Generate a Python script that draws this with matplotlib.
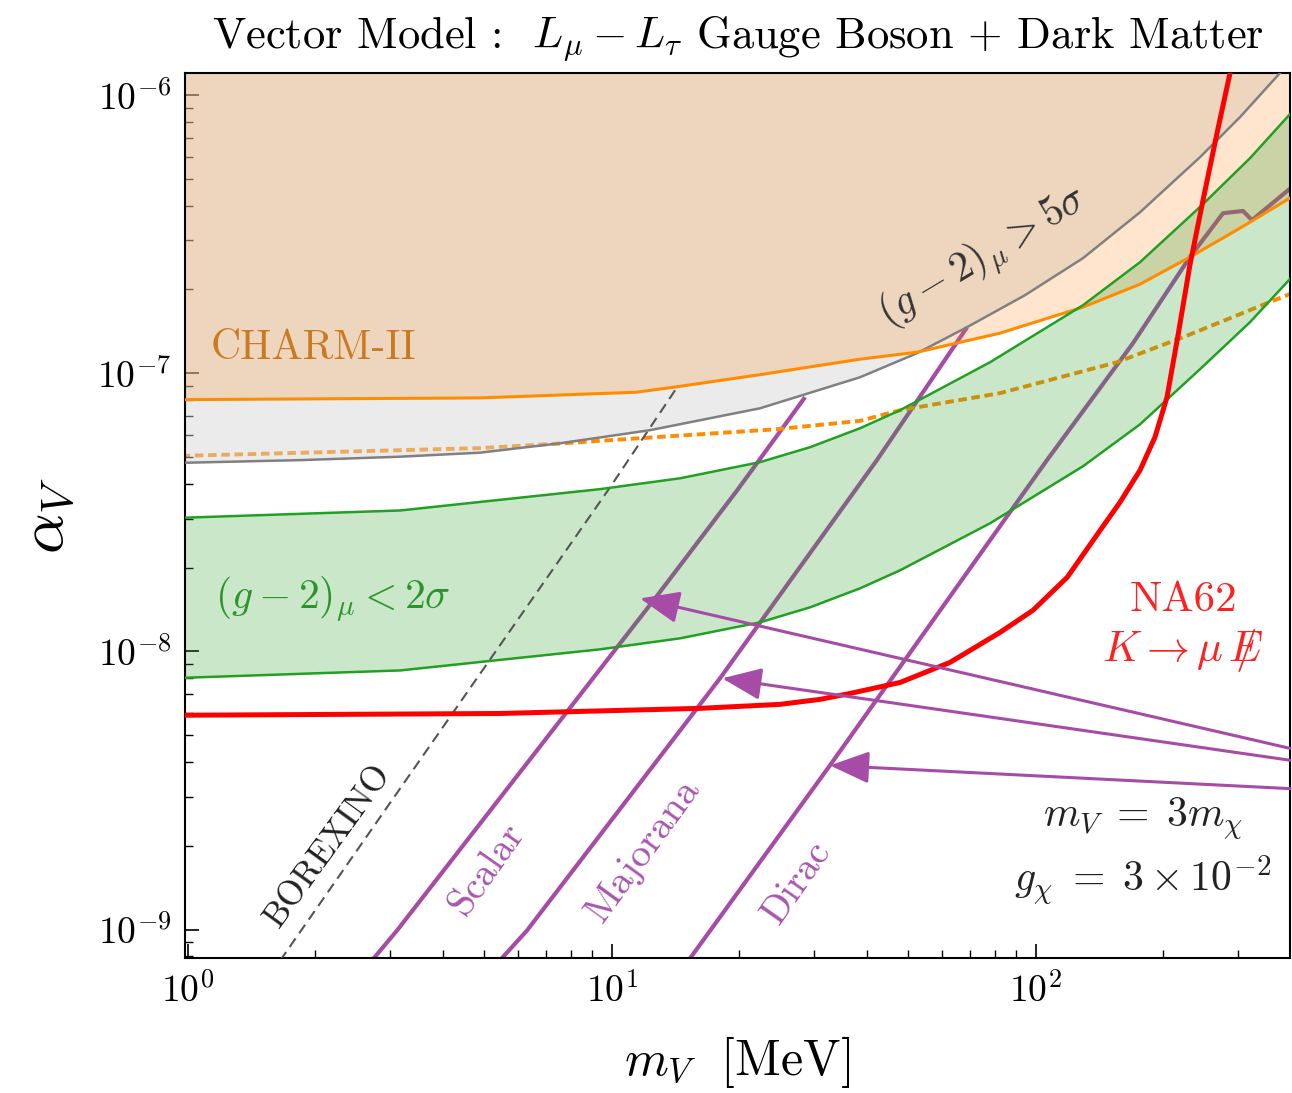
import matplotlib
matplotlib.use("Agg")
import matplotlib.pyplot as plt
from matplotlib.ticker import NullFormatter, FixedLocator

plt.rcParams['font.family'] = 'serif'
plt.rcParams['font.serif'] = ['cmr10']
plt.rcParams['mathtext.fontset'] = 'cm'
plt.rcParams['axes.formatter.use_mathtext'] = True

# ---- data (m_V in MeV, alpha_V) ----
charm_x = [0.9, 4.891, 11.4, 14.26, 22.38, 38.51, 52.48, 82.38, 129.3, 176.2, 231, 303.3, 420]
charm_y = [8.03e-8, 8.15e-8, 8.54e-8, 8.94e-8, 9.88e-8, 1.123e-7, 1.19e-7, 1.393e-7,
           1.728e-7, 2.089e-7, 2.614e-7, 3.323e-7, 4.48e-7]

charm_dash_x = [0.9, 4.9, 7.55, 12.3, 24.5, 38.5, 47.86, 82.4, 155.5, 222.6, 351, 420]
charm_dash_y = [5.03e-8, 5.38e-8, 5.59e-8, 5.87e-8, 6.29e-8, 6.74e-8, 7.36e-8, 8.48e-8,
                1.095e-7, 1.347e-7, 1.785e-7, 1.99e-7]

gm2_5s_x = [0.9, 1.84, 3.168, 4.891, 7.553, 12.31, 22.38, 38.51, 52.48, 68.87, 94.37,
            129.3, 176.2, 244.1, 303.3, 376.8, 420.1]
gm2_5s_y = [4.75e-8, 4.87e-8, 5.01e-8, 5.18e-8, 5.60e-8, 6.24e-8, 7.48e-8, 9.67e-8,
            1.18e-7, 1.464e-7, 1.908e-7, 2.593e-7, 3.79e-7, 5.98e-7, 8.33e-7, 1.2e-6, 1.428e-6]

gm2_2s_x = [0.9, 3.168, 9.385, 14.49, 22.38, 29.36, 38.51, 47.86, 78.03, 129.3, 176.2,
            244.1, 320.2, 420.1]
gm2_2s_hi = [3.01e-8, 3.21e-8, 3.83e-8, 4.19e-8, 4.79e-8, 5.42e-8, 6.34e-8, 7.36e-8,
             1.095e-7, 1.756e-7, 2.507e-7, 3.96e-7, 5.93e-7, 9.36e-7]
gm2_2s_lo = [8.0e-9, 8.54e-9, 1.017e-8, 1.114e-8, 1.272e-8, 1.44e-8, 1.685e-8, 1.956e-8,
             2.887e-8, 4.63e-8, 6.55e-8, 1.034e-7, 1.526e-7, 2.386e-7]

na62_x = [0.9, 5.45, 16.16, 24.94, 30.99, 36.5, 47.86, 62.8, 82.38, 98.5, 118.6, 141.8,
          158.1, 176.2, 191.1, 204.0, 216.6, 231.0, 248.1, 267.7, 287.3, 293]
na62_y = [5.89e-9, 5.98e-9, 6.24e-9, 6.45e-9, 6.72e-9, 7.06e-9, 7.73e-9, 9.13e-9, 1.17e-8,
          1.405e-8, 1.845e-8, 2.72e-8, 3.44e-8, 4.48e-8, 5.89e-8, 8.2e-8, 1.37e-7,
          2.446e-7, 4.19e-7, 7.3e-7, 1.2e-6, 1.45e-6]

borexino_x = [1.651, 9.91, 14.26]
borexino_y = [7.73e-10, 3.89e-8, 8.9e-8]

scalar_x = [2.62, 3.115, 12.65, 19.75, 28.57]
scalar_y = [7.24e-10, 9.92e-10, 1.55e-8, 3.79e-8, 8.2e-8]

majorana_x = [5.36, 6.31, 18.0, 42.2, 68.9]
majorana_y = [7.54e-10, 9.92e-10, 8.0e-9, 4.87e-8, 1.464e-7]

dirac_x = [15.05, 32.7, 106.3, 169.6, 231, 276.5, 308.3, 323.7, 402]
dirac_y = [7.61e-10, 3.89e-9, 4.87e-8, 1.282e-7, 2.614e-7, 3.76e-7, 3.83e-7, 3.55e-7, 4.67e-7]

# arrow tips on the relic lines and the height where they leave the right edge
arrow_tip_x = [11.66, 18.22, 32.7]
arrow_tip_y = [1.55e-8, 8.0e-9, 3.89e-9]
arrow_tail_y = [4.48e-9, 4.06e-9, 3.21e-9]

x_major = [1, 10, 100]
y_major = [1e-9, 1e-8, 1e-7, 1e-6]

purple = '#a64ca6'
top = 1e-5

fig = plt.figure(figsize=(12.92, 10.93), dpi=100)
ax = fig.add_axes([0.1432, 0.1235, 0.8553, 0.8097])
ax.set_xscale('log')
ax.set_yscale('log')

# relic lines (under the shaded regions)
for xs, ys in [(scalar_x, scalar_y), (majorana_x, majorana_y), (dirac_x, dirac_y)]:
    ax.plot(xs, ys, color=purple, lw=3, zorder=1, solid_capstyle='butt')
ax.plot(charm_dash_x, charm_dash_y, color='darkorange', lw=2.8, dashes=(2.2, 1.2), zorder=1)
ax.plot(borexino_x, borexino_y, color='#555555', lw=1.5, dashes=(5, 3), zorder=3)

# shaded regions
ax.fill_between(gm2_5s_x, gm2_5s_y, top, color='lightgray', alpha=0.45, lw=0, zorder=2)
ax.fill_between(charm_x, charm_y, top, color='#ff7f0e', alpha=0.2, lw=0, zorder=2)
ax.fill_between(gm2_2s_x, gm2_2s_lo, gm2_2s_hi, color='#2ca02c', alpha=0.25, lw=0, zorder=2)

ax.plot(gm2_5s_x, gm2_5s_y, color='#808080', lw=1.8, zorder=3)
ax.plot(charm_x, charm_y, color='darkorange', lw=2.2, zorder=3)
ax.plot(gm2_2s_x, gm2_2s_hi, color='#22a022', lw=1.8, zorder=3)
ax.plot(gm2_2s_x, gm2_2s_lo, color='#22a022', lw=1.8, zorder=3)
ax.plot(na62_x, na62_y, color='red', lw=3.6, zorder=4)

for tx, ty, yt in zip(arrow_tip_x, arrow_tip_y, arrow_tail_y):
    ax.annotate('', xy=(tx, ty), xytext=(1.0, yt),
                textcoords=('axes fraction', 'data'),
                arrowprops=dict(arrowstyle='-|>,head_length=1.1,head_width=0.45',
                                color=purple, lw=2.2, mutation_scale=22,
                                shrinkA=0, shrinkB=0),
                annotation_clip=False, zorder=5)

ax.set_xlim(0.985, 398)
ax.set_ylim(7.9e-10, 1.2e-6)

# labels
ax.text(1.129, 1.23e-7, 'CHARM-II', color='#cc7a22', fontsize=30, ha='left', va='center')
ax.text(1.16, 1.55e-8, r'$(g-2)_\mu < 2\sigma$', color='#2a962a', fontsize=30,
        ha='left', va='center')
ax.text(75.1, 2.61e-7, r'$(g-2)_\mu > 5\sigma$', color='#333333', fontsize=30,
        ha='center', va='center', rotation=31)
ax.text(222.5, 1.526e-8, 'NA62', color='#ff2020', fontsize=31, ha='center', va='center')
ax.text(222.5, 1.008e-8, r'$K \to \mu\, E\!\!\!\!/$', color='#ff2020', fontsize=31,
        ha='center', va='center')
ax.text(179, 2.51e-9, r'$m_V\; =\; 3m_\chi$', color='#222222', fontsize=30,
        ha='center', va='center')
ax.text(179, 1.50e-9, r'$g_\chi\; =\; 3\times10^{-2}$', color='#222222', fontsize=30,
        ha='center', va='center')
ax.text(2.14, 2.005e-9, 'BOREXINO', color='#222222', fontsize=25, ha='center', va='center',
        rotation=54)
ax.text(5.08, 1.657e-9, 'Scalar', color='#a855b0', fontsize=28, ha='center', va='center',
        rotation=55)
ax.text(11.86, 1.924e-9, 'Majorana', color='#a855b0', fontsize=29, ha='center', va='center',
        rotation=54)
ax.text(27.35, 1.476e-9, 'Dirac', color='#a855b0', fontsize=28, ha='center', va='center',
        rotation=55)

ax.set_title(r'Vector Model :  $L_\mu - L_\tau$ Gauge Boson $+$ Dark Matter',
             fontsize=32, pad=18)
ax.set_xlabel(r'$m_V\ \ [\mathrm{MeV}]$', fontsize=36, labelpad=18)
ax.set_ylabel(r'$\alpha_V$', fontsize=46, labelpad=14)

ax.xaxis.set_major_locator(FixedLocator(x_major))
ax.yaxis.set_major_locator(FixedLocator(y_major))
ax.xaxis.set_minor_formatter(NullFormatter())
ax.yaxis.set_minor_formatter(NullFormatter())
ax.tick_params(which='both', direction='in', top=False, right=False, labelsize=27)
ax.tick_params(which='major', length=10, width=1.2, pad=10)
ax.tick_params(which='minor', length=6, width=1.0)
for s in ax.spines.values():
    s.set_linewidth(1.5)

fig.savefig('out.png', dpi=100)
